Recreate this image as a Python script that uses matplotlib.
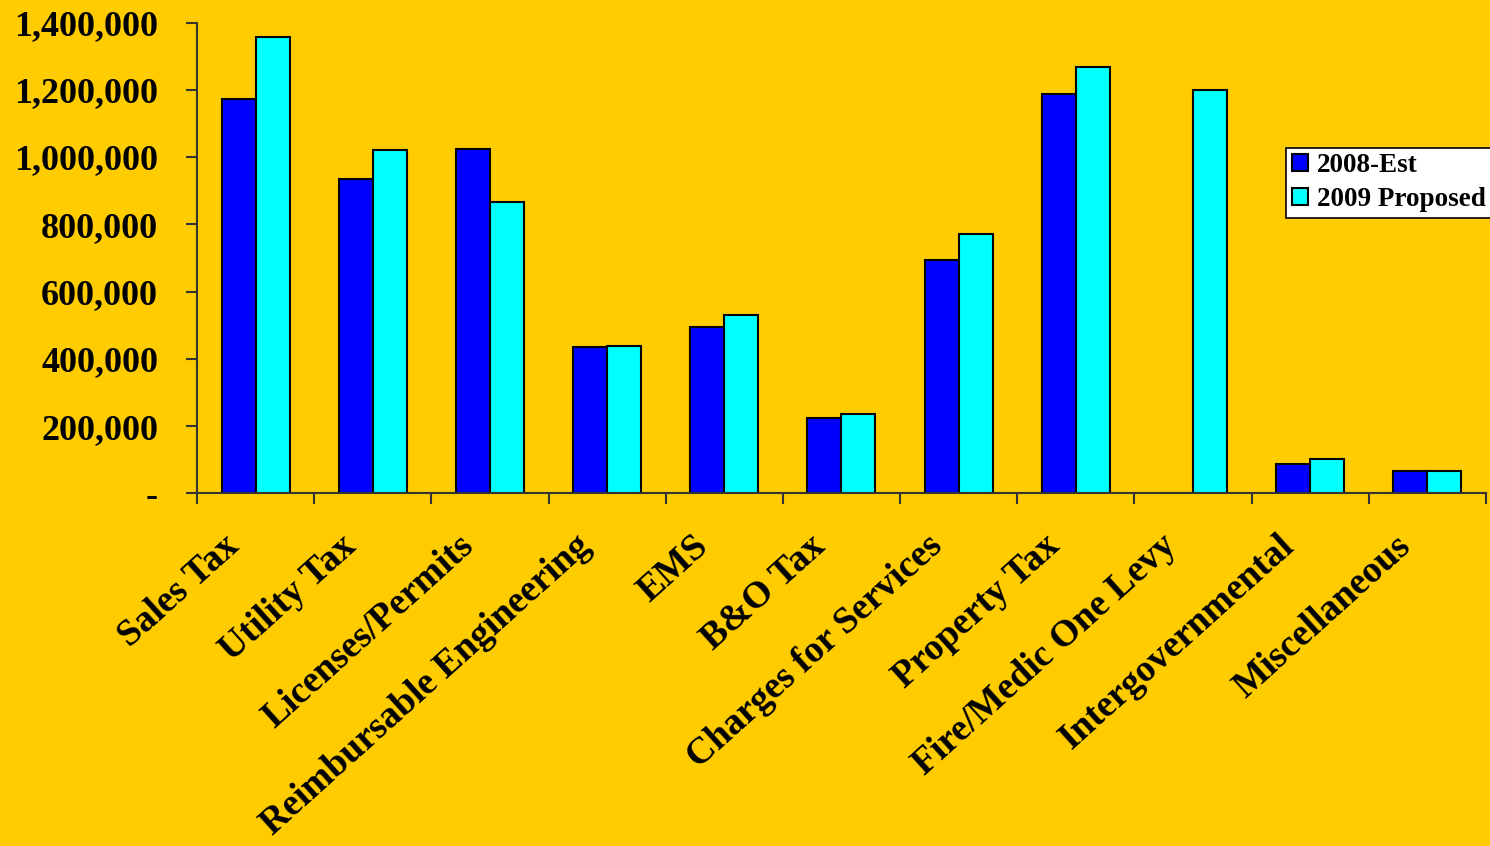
import matplotlib.pyplot as plt
import matplotlib.transforms as mtransforms
import numpy as np
from matplotlib.ticker import FuncFormatter

categories = ["Sales Tax", "Utility Tax", "Licenses/Permits", "Reimbursable Engineering",
              "EMS", "B&O Tax", "Charges for Services", "Property Tax",
              "Fire/Medic One Levy", "Intergovernmental", "Miscellaneous"]
est_2008 = [1172000, 934000, 1023000, 436000, 495000, 225000,
            694000, 1187000, 0, 89000, 68000]
prop_2009 = [1356000, 1020000, 866000, 439000, 531000, 237000,
             771000, 1267000, 1198000, 101000, 68000]

bg = '#FFCC00'
plt.rcParams['font.family'] = ['Liberation Serif', 'DejaVu Serif']
plt.rcParams['font.weight'] = 'bold'

fig = plt.figure(figsize=(14.9, 8.46), dpi=100, facecolor=bg)
ax = fig.add_axes([0.1322, 0.4167, 0.9973 - 0.1322, 0.9734 - 0.4167])
ax.set_facecolor(bg)

x = np.arange(len(categories))
w = 0.29
ax.bar(x - w / 2, est_2008, w, color='#0000FF', edgecolor='black', linewidth=1.5, label='2008-Est')
ax.bar(x + w / 2, prop_2009, w, color='#00FFFF', edgecolor='black', linewidth=1.5, label='2009 Proposed')

ax.set_xlim(-0.5, len(categories) - 0.5)
ax.set_ylim(0, 1400000)
ax.set_yticks(np.arange(0, 1400001, 200000))
ax.yaxis.set_major_formatter(FuncFormatter(lambda v, p: '-' if v == 0 else f'{v:,.0f}'))
ax.tick_params(axis='y', length=8, width=1.5, pad=20, labelsize=26, color='#333333')

# ticks sit between the categories, labels at the centres
ax.set_xticks(np.arange(-0.5, len(categories), 1.0))
ax.set_xticklabels([])
ax.set_xticks(x, minor=True)
ax.set_xticklabels(categories, minor=True, rotation=42, ha='right', va='top',
                   rotation_mode='anchor', fontsize=27)
ax.tick_params(axis='x', which='major', length=8, width=1.5, color='#333333')
ax.tick_params(axis='x', which='minor', length=0, pad=25)
shift = mtransforms.ScaledTranslation(-0.33, 0, fig.dpi_scale_trans)
for lbl in ax.get_xticklabels(minor=True):
    lbl.set_transform(lbl.get_transform() + shift)

for s in ['top', 'right']:
    ax.spines[s].set_visible(False)
for s in ['left', 'bottom']:
    ax.spines[s].set_linewidth(1.5)
    ax.spines[s].set_color('#333333')

leg = ax.legend(loc='upper left', bbox_to_anchor=(0.845, 0.7335), fontsize=19.5, frameon=True,
                fancybox=False, edgecolor='black', framealpha=1, borderaxespad=0,
                handlelength=0.6, handleheight=0.6, handletextpad=0.35, labelspacing=0.32,
                borderpad=0.2)
leg.get_frame().set_linewidth(1.2)

fig.savefig('out.png', dpi=100, facecolor=bg)
